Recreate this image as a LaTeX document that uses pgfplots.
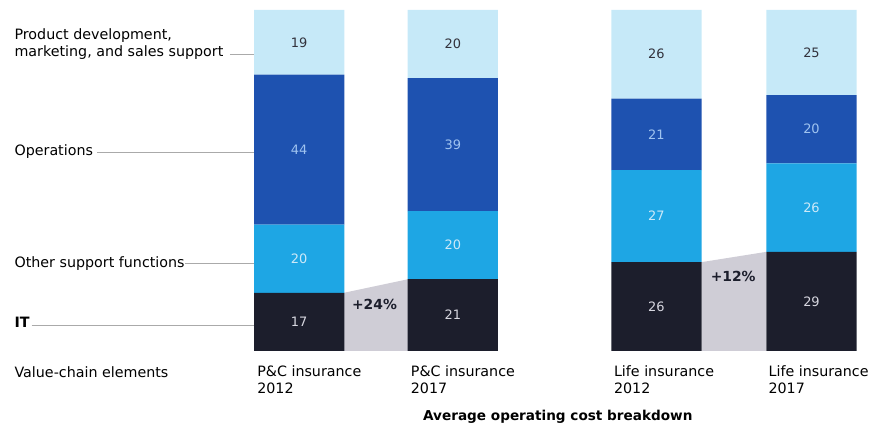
\documentclass[border=0pt]{standalone}
\usepackage{pgfplots}
\pgfplotsset{compat=1.18}
\usepackage{fontspec}
\setmainfont{DejaVu Sans}
\definecolor{cprod}{RGB}{198,233,248}
\definecolor{cops}{RGB}{30,82,176}
\definecolor{coth}{RGB}{30,166,228}
\definecolor{cit}{RGB}{28,30,44}
\definecolor{cgray}{RGB}{207,205,214}
\definecolor{tops}{RGB}{160,196,240}
\definecolor{toth}{RGB}{205,233,248}
\definecolor{tit}{RGB}{215,215,224}
\definecolor{tprod}{RGB}{50,50,60}
\definecolor{cline}{RGB}{170,170,170}
\pgfplotsset{base/.style={
  scale only axis, width=654.75pt, height=322.5pt,
  xmin=0, xmax=873, ymin=-22.09, ymax=102.91,
  hide axis, clip=false}}
\tikzset{lab/.style={anchor=base west, font=\fontsize{10.8}{12}\selectfont}}
\begin{document}
\begin{tikzpicture}
\begin{axis}[base]
\addplot[fill=cgray, draw=none] coordinates {(347,0) (347,17) (412,21) (412,0)} \closedcycle;
\addplot[fill=cgray, draw=none] coordinates {(708,0) (708,26) (773,29) (773,0)} \closedcycle;
% left labels
\node[lab] at (axis cs:10,91.28) {Product development,};
\node[lab] at (axis cs:10,86.34) {marketing, and sales support};
\node[lab] at (axis cs:10,57.27) {Operations};
\node[lab] at (axis cs:10,24.42) {Other support functions};
\node[lab, font=\bfseries\fontsize{10.8}{12}\selectfont] at (axis cs:10,6.69) {IT};
\node[lab] at (axis cs:10,-7.85) {Value-chain elements};
\draw[cline, line width=0.5pt] (axis cs:232,86.9) -- (axis cs:257,86.9);
\draw[cline, line width=0.5pt] (axis cs:98,58.14) -- (axis cs:257,58.14);
\draw[cline, line width=0.5pt] (axis cs:187,25.58) -- (axis cs:257,25.58);
\draw[cline, line width=0.5pt] (axis cs:32,7.56) -- (axis cs:257,7.56);
% category labels
\node[lab] at (axis cs:255,-7.56) {P\&C insurance};
\node[lab] at (axis cs:255,-12.5) {2012};
\node[lab] at (axis cs:410,-7.56) {P\&C insurance};
\node[lab] at (axis cs:410,-12.5) {2017};
\node[lab] at (axis cs:615,-7.56) {Life insurance};
\node[lab] at (axis cs:615,-12.5) {2012};
\node[lab] at (axis cs:771,-7.56) {Life insurance};
\node[lab] at (axis cs:771,-12.5) {2017};
\node[anchor=base, font=\bfseries\fontsize{10.3}{12}\selectfont] at (axis cs:563,-20.6) {Average operating cost breakdown};
\node[font=\bfseries\fontsize{10.5}{12}\selectfont, text=cit] at (axis cs:378,13.66) {+24\%};
\node[font=\bfseries\fontsize{10.5}{12}\selectfont, text=cit] at (axis cs:740,21.8) {+12\%};
\path (axis cs:0,-22.09) rectangle (axis cs:873,102.91);
\end{axis}
\begin{axis}[base, ybar stacked, bar width=91,
  /pgf/number format/assume math mode=true,
  point meta=explicit, nodes near coords,
  every node near coord/.append style={anchor=center, font=\fontsize{9.8}{11}\selectfont}]
\addplot[fill=cit, draw=none, every node near coord/.append style={text=tit}] coordinates {(302,17)[17] (457,21)[21] (662.5,26)[26] (819,29)[29]};
\addplot[fill=coth, draw=none, every node near coord/.append style={text=toth}] coordinates {(302,20)[20] (457,20)[20] (662.5,27)[27] (819,26)[26]};
\addplot[fill=cops, draw=none, every node near coord/.append style={text=tops}] coordinates {(302,44)[44] (457,39)[39] (662.5,21)[21] (819,20)[20]};
\addplot[fill=cprod, draw=none, every node near coord/.append style={text=tprod}] coordinates {(302,19)[19] (457,20)[20] (662.5,26)[26] (819,25)[25]};
\end{axis}
\end{tikzpicture}
\end{document}
